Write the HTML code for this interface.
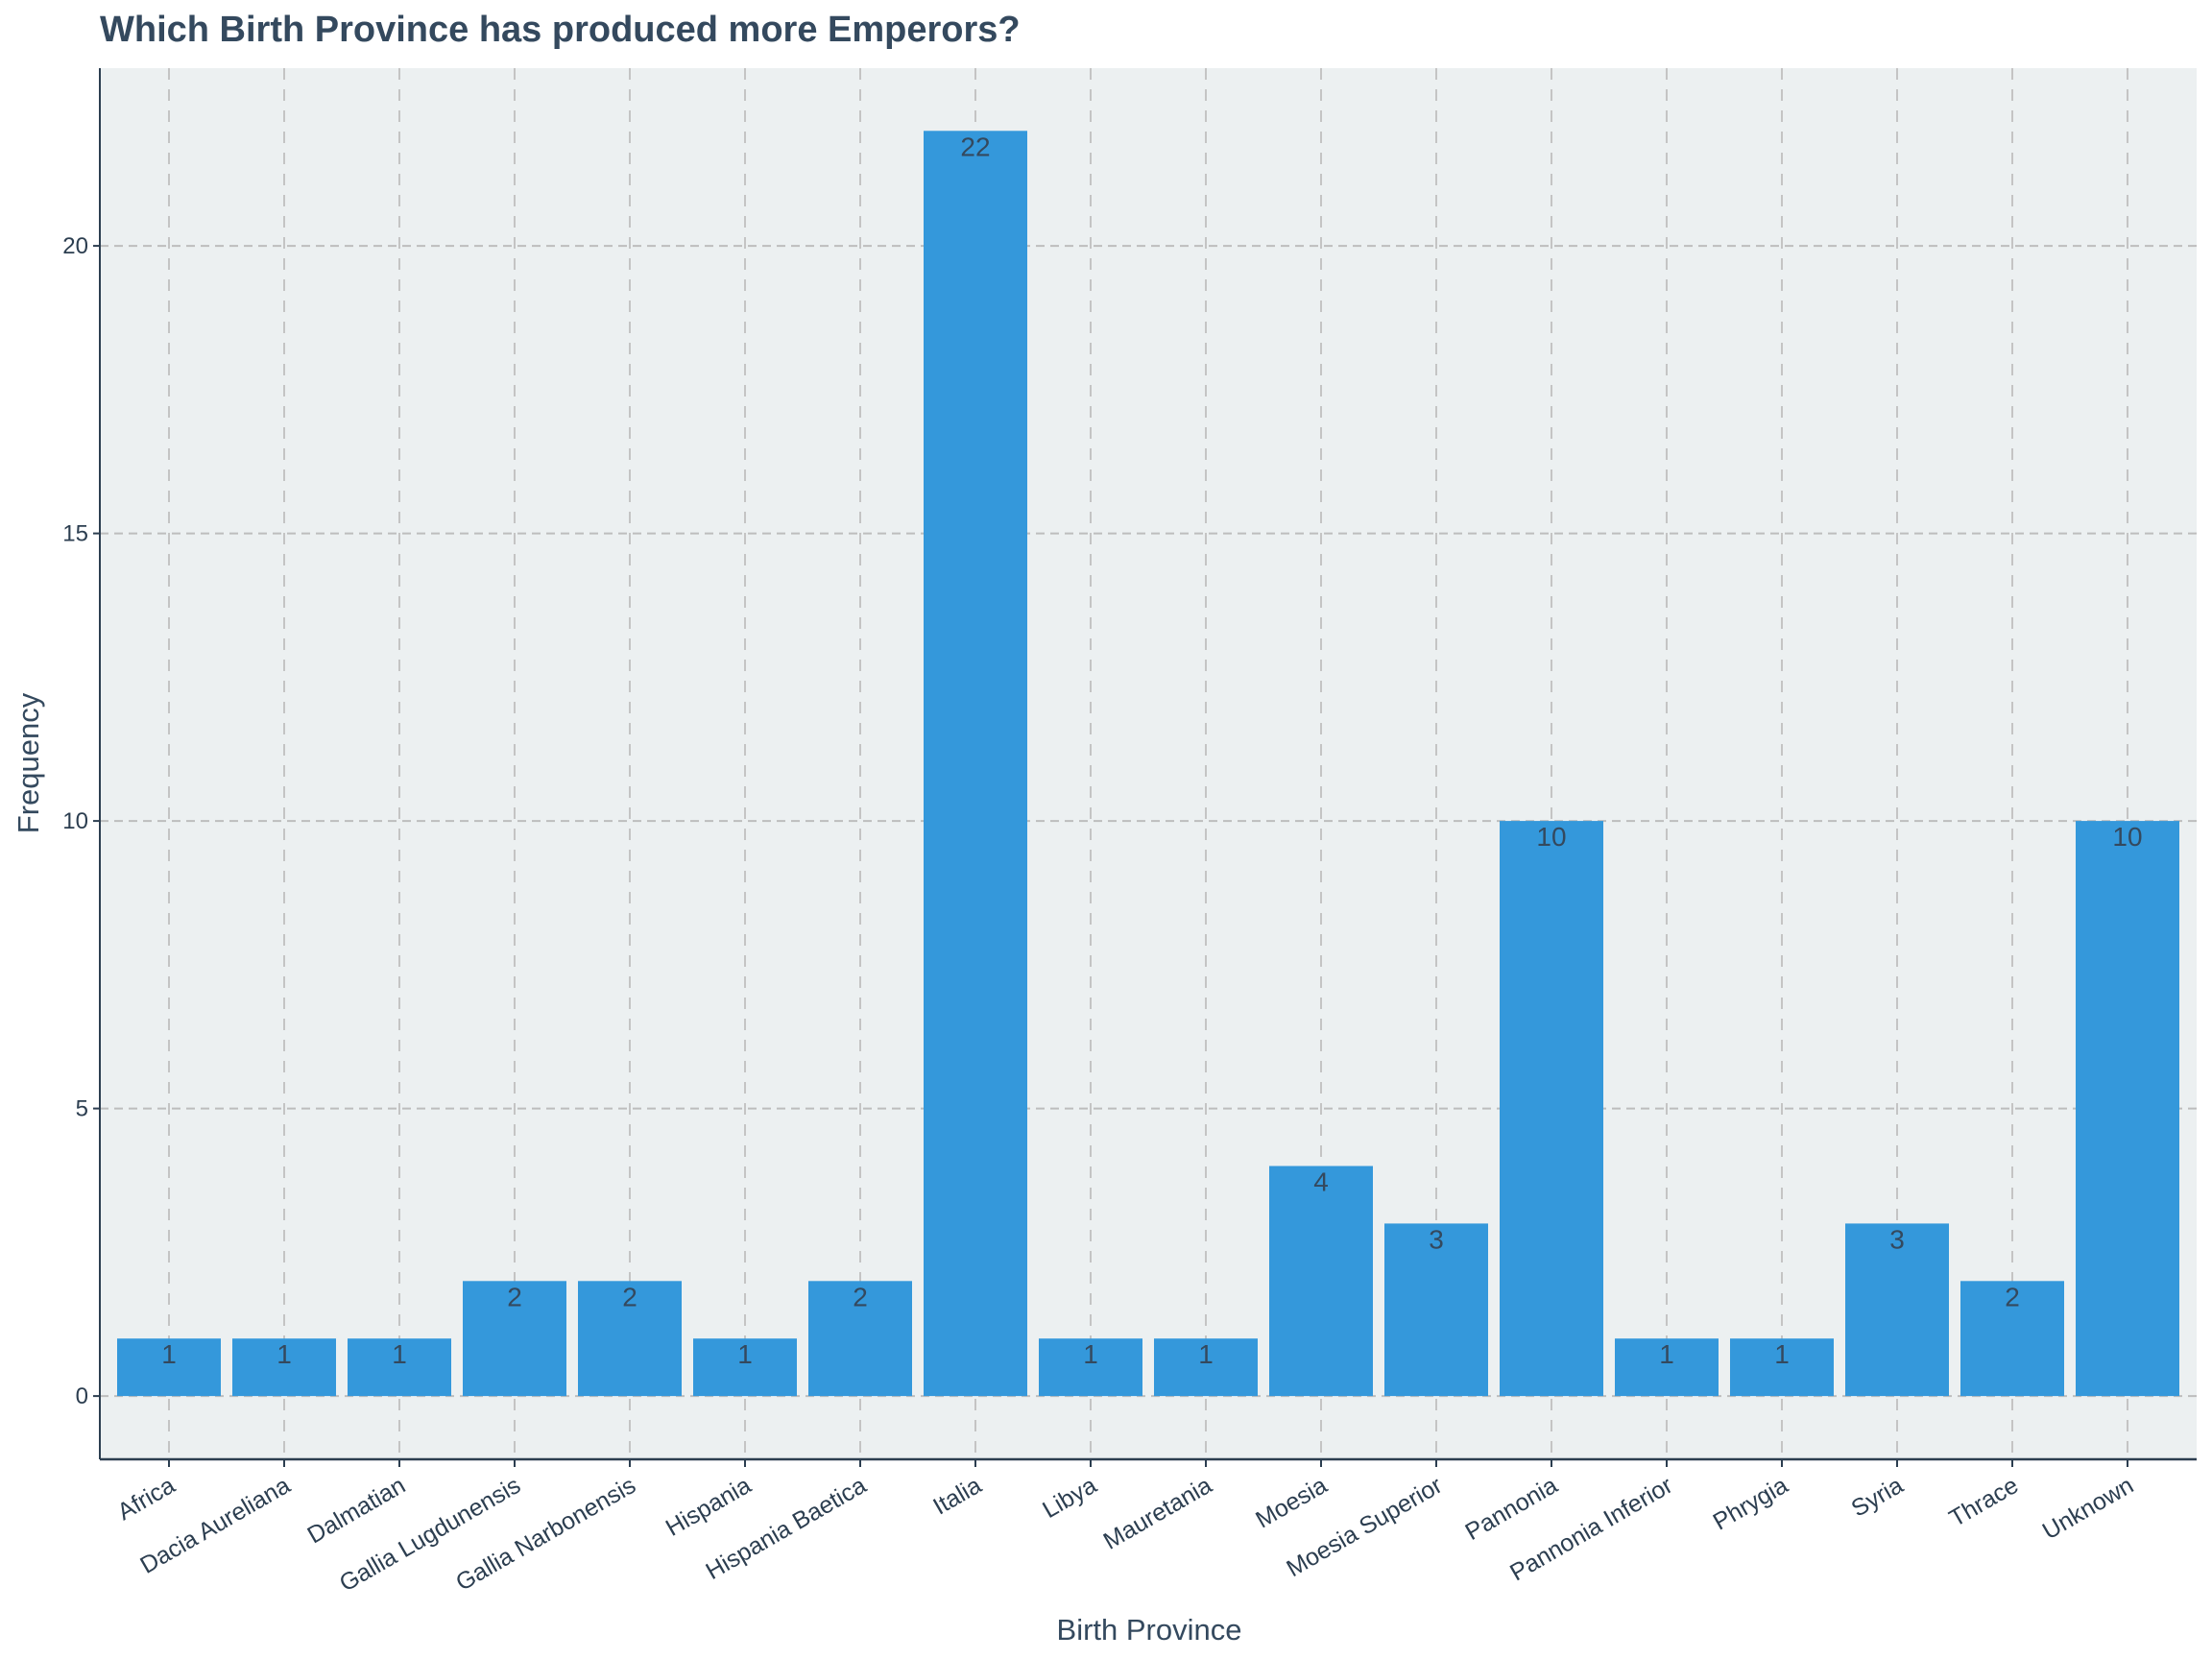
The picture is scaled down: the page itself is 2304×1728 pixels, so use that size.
<!DOCTYPE html>
<html><head><meta charset="utf-8"><style>
html,body{margin:0;padding:0;background:#fff;}
svg{display:block;font-family:"Liberation Sans",Arial,sans-serif;}
</style></head><body>
<svg id="chart" width="2304" height="1728" viewBox="0 0 2304 1728">
<text x="104" y="43" font-size="38" font-weight="bold" fill="#34495e">Which Birth Province has produced more Emperors?</text>
<rect x="104" y="71" width="2184" height="1449" fill="#ecf0f1"/>
<g id="grid"></g><g id="bars"></g><g id="axes"></g>
<text x="1197" y="1708" font-size="31" fill="#34495e" text-anchor="middle">Birth Province</text>
<text transform="translate(40,795) rotate(-90)" font-size="31" fill="#34495e" text-anchor="middle">Frequency</text>
</svg>
<script>
const categories=["Africa","Dacia Aureliana","Dalmatian","Gallia Lugdunensis","Gallia Narbonensis","Hispania","Hispania Baetica","Italia","Libya","Mauretania","Moesia","Moesia Superior","Pannonia","Pannonia Inferior","Phrygia","Syria","Thrace","Unknown"];
const values=[1,1,1,2,2,1,2,22,1,1,4,3,10,1,1,3,2,10];
const yTicks=[0,5,10,15,20];
const NS="http://www.w3.org/2000/svg";
const L=104,R=2288,T=71,B=1520,yMin=-1.1,yMax=23.09;
const band=(R-L)/(categories.length+0.2);
function xPos(i){return L+band*(0.6+i);}
function yPos(v){return B-(v-yMin)/(yMax-yMin)*(B-T);}
function mk(tag,attrs,parent){const e=document.createElementNS(NS,tag);for(const k in attrs)e.setAttribute(k,attrs[k]);parent.appendChild(e);return e;}
const grid=document.getElementById('grid'),bars=document.getElementById('bars'),axes=document.getElementById('axes');
yTicks.forEach(t=>{const y=yPos(t);
const g=mk('line',{x1:L,x2:R,y1:y,y2:y,stroke:'#bdbdbd','stroke-width':2,'stroke-dasharray':'9,6'},grid);


const tk=mk('line',{x1:L-7,x2:L,y1:y,y2:y,stroke:'#2c3e50','stroke-width':2},axes);


const tl=mk('text',{x:L-12,y:y+8,'font-size':24,fill:'#2c3e50','text-anchor':'end'},axes);tl.textContent=t;


});
categories.forEach((c,i)=>{const x=xPos(i);
const g=mk('line',{x1:x,x2:x,y1:T,y2:B,stroke:'#c4c4c4','stroke-width':2,'stroke-dasharray':'12,10'},grid);


const w=band*0.9,y0=yPos(0),y1=yPos(values[i]);
const r=mk('rect',{x:x-w/2,y:y1,width:w,height:y0-y1,fill:'#3498db'},bars);


const vl=mk('text',{x:x,y:y1+26,'font-size':28,fill:'#34495e','text-anchor':'middle'},bars);vl.textContent=values[i];


const tk=mk('line',{x1:x,x2:x,y1:B,y2:B+8,stroke:'#2c3e50','stroke-width':2},axes);


const tl=mk('text',{transform:`translate(${x+8},${B+32}) rotate(-30)`,'font-size':25,fill:'#2c3e50','text-anchor':'end'},axes);tl.textContent=c;


});
const ya=mk('line',{x1:L,x2:L,y1:T,y2:B,stroke:'#2c3e50','stroke-width':2},axes);


const xa=mk('line',{x1:L,x2:R,y1:B,y2:B,stroke:'#2c3e50','stroke-width':2.5},axes);


</script>
</body></html>
